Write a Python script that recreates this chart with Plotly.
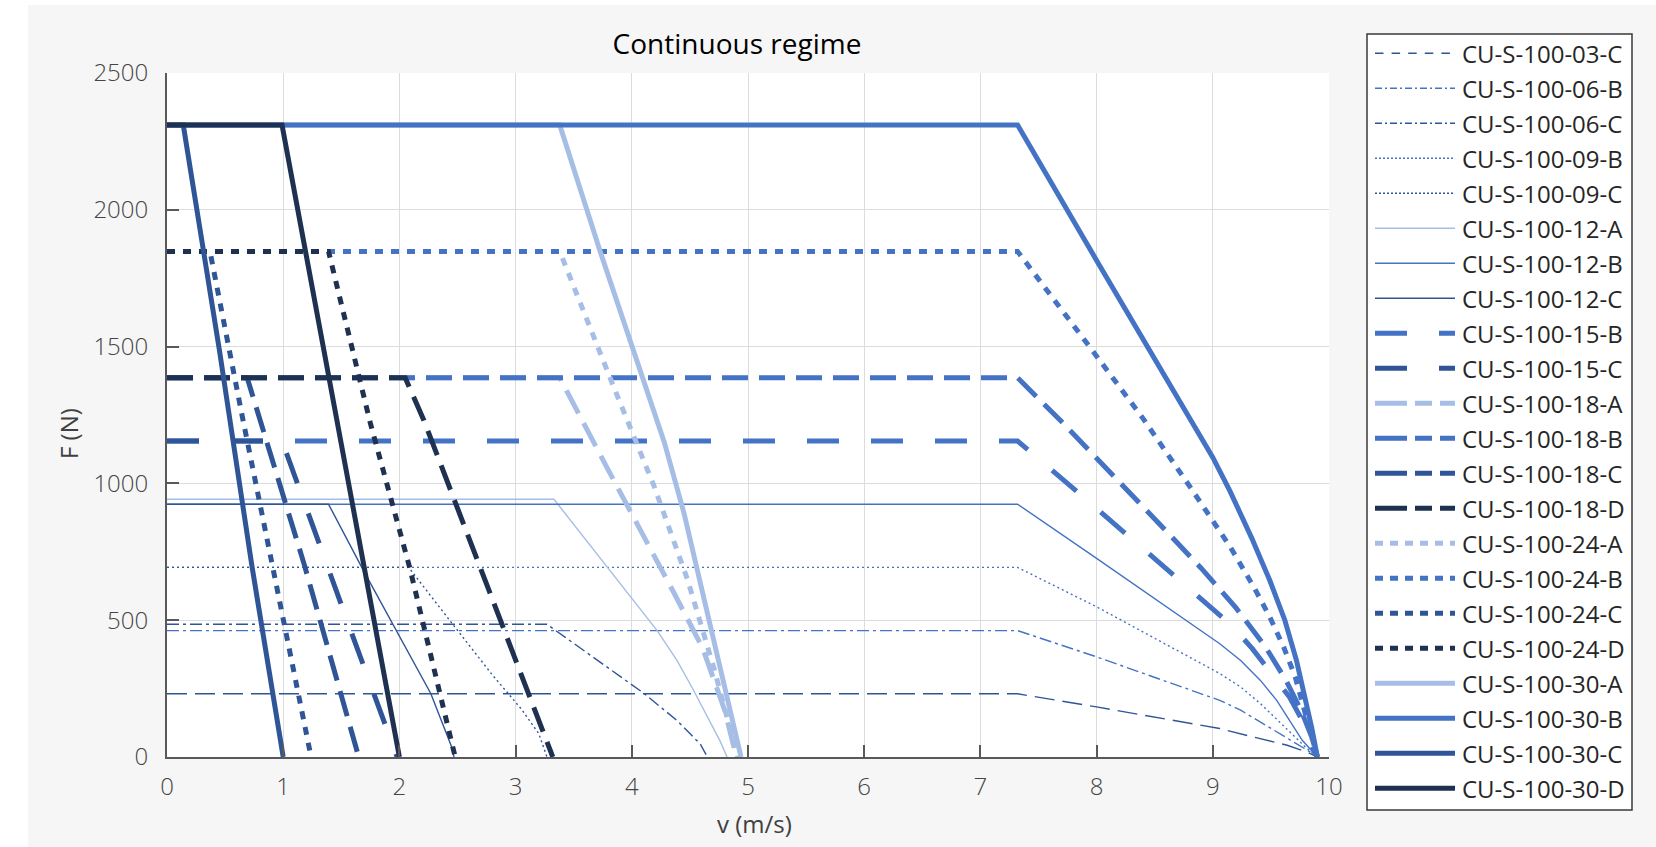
import plotly.graph_objects as go

# ---------------- data ----------------
names = ["CU-S-100-03-C", "CU-S-100-06-B", "CU-S-100-06-C", "CU-S-100-09-B",
         "CU-S-100-09-C", "CU-S-100-12-A", "CU-S-100-12-B", "CU-S-100-12-C",
         "CU-S-100-15-B", "CU-S-100-15-C", "CU-S-100-18-A", "CU-S-100-18-B",
         "CU-S-100-18-C", "CU-S-100-18-D", "CU-S-100-24-A", "CU-S-100-24-B",
         "CU-S-100-24-C", "CU-S-100-24-D", "CU-S-100-30-A", "CU-S-100-30-B",
         "CU-S-100-30-C", "CU-S-100-30-D"]

v_03C = [0, 7.32, 8.0, 9.06, 9.35, 9.64, 9.81, 9.9]
f_03C = [231, 231, 183, 104, 73, 43, 18, 0]
v_06B = [0, 7.32, 8.0, 9.06, 9.24, 9.41, 9.58, 9.72, 9.84, 9.9]
f_06B = [462, 462, 366, 207, 171, 128, 85, 49, 18, 0]
v_06C = [0, 3.27, 4.1, 4.39, 4.59, 4.65]
f_06C = [485, 485, 234, 133, 47, 0]
v_09B = [0, 7.32, 8.0, 9.06, 9.24, 9.41, 9.56, 9.68, 9.8, 9.9]
f_09B = [693, 693, 549, 305, 256, 195, 134, 85, 35, 0]
v_09C = [0, 2.08, 2.45, 2.8, 3.05, 3.2, 3.27]
f_09C = [693, 693, 490, 300, 175, 85, 0]
v_12A = [0, 3.33, 4.22, 4.39, 4.53, 4.65, 4.76, 4.82]
f_12A = [942, 942, 461, 352, 245, 150, 58, 0]
v_12B = [0, 7.32, 8.0, 8.58, 9.06, 9.24, 9.41, 9.55, 9.66, 9.77, 9.9]
f_12B = [924, 924, 726, 555, 414, 353, 280, 207, 134, 61, 0]
v_12C = [0, 1.39, 1.69, 2.04, 2.27, 2.45, 2.47]
f_12C = [924, 924, 682, 410, 232, 37, 0]
v_15B = [0, 7.32, 7.9, 8.52, 8.94, 9.16, 9.34, 9.51, 9.66, 9.77, 9.84, 9.9]
f_15B = [1155, 1155, 945, 720, 567, 482, 396, 305, 219, 134, 49, 0]
v_15C = [0, 0.99, 1.6, 1.98]
f_15C = [1155, 1155, 440, 0]
v_18A = [0, 3.38, 3.79, 4.05, 4.36, 4.61, 4.8, 4.9]
f_18A = [1386, 1386, 1055, 852, 602, 398, 170, 0]
v_18B = [0, 7.32, 7.7, 8.1, 8.5, 8.9, 9.2, 9.45, 9.63, 9.76, 9.85, 9.9]
f_18B = [1386, 1386, 1225, 1050, 870, 690, 545, 405, 280, 170, 75, 0]
v_18C = [0, 0.69, 1.18, 1.49, 1.65]
f_18C = [1386, 1386, 705, 232, 0]
v_18D = [0, 2.05, 2.21, 2.6, 3.32]
f_18D = [1386, 1386, 1231, 800, 0]
v_24A = [0, 3.38, 3.86, 4.19, 4.48, 4.71, 4.91]
f_24A = [1848, 1848, 1336, 992, 648, 320, 0]
v_24B = [0, 7.32, 7.94, 8.39, 8.8, 9.15, 9.36, 9.49, 9.61, 9.71, 9.78, 9.84, 9.9]
f_24B = [1848, 1848, 1499, 1243, 990, 768, 616, 512, 402, 292, 183, 90, 0]
v_24C = [0, 0.37, 0.65, 0.99, 1.24]
f_24C = [1848, 1848, 1240, 522, 0]
v_24D = [0, 1.39, 1.75, 2.09, 2.48]
f_24D = [1848, 1848, 1220, 690, 0]
v_30A = [0, 3.38, 3.73, 4.1, 4.28, 4.45, 4.68, 4.81, 4.94]
f_30A = [2310, 2310, 1845, 1385, 1150, 890, 480, 240, 0]
v_30B = [0, 7.32, 8.0, 8.82, 9.0, 9.15, 9.335, 9.49, 9.62, 9.72, 9.79, 9.85, 9.9]
f_30B = [2310, 2310, 1815, 1230, 1095, 970, 800, 646, 500, 353, 232, 110, 0]
v_30C = [0, 0.14, 0.45, 0.73, 1.0]
f_30C = [2310, 2310, 1490, 700, 0]
v_30D = [0, 0.99, 1.59, 2.0]
f_30D = [2310, 2310, 938, 0]

x_ticks = [0, 1, 2, 3, 4, 5, 6, 7, 8, 9, 10]
y_ticks = [0, 500, 1000, 1500, 2000, 2500]

series_v = [v_03C, v_06B, v_06C, v_09B, v_09C, v_12A, v_12B, v_12C, v_15B, v_15C,
            v_18A, v_18B, v_18C, v_18D, v_24A, v_24B, v_24C, v_24D,
            v_30A, v_30B, v_30C, v_30D]
series_f = [f_03C, f_06B, f_06C, f_09B, f_09C, f_12A, f_12B, f_12C, f_15B, f_15C,
            f_18A, f_18B, f_18C, f_18D, f_24A, f_24B, f_24C, f_24D,
            f_30A, f_30B, f_30C, f_30D]

# ---------------- styles ----------------
colA, colB, colC, colD = "#a6bee5", "#4472c4", "#2f5597", "#1f3151"
colors = [colC, colB, colC, colB, colC, colA, colB, colC, colB, colC,
          colA, colB, colC, colD, colA, colB, colC, colD, colA, colB, colC, colD]
thin, thick = 1.4, 5
widths = [thin] * 8 + [thick] * 14
DASH3 = "20px,8px"
DASHDOT = "12px,4px,3px,4px"
DOT = "2px,3px"
LONG = "32px,32px"
DASH18 = "26px,11px"
DOT24 = "8px,8px"
plot_dash = [DASH3, DASHDOT, DASHDOT, DOT, DOT, "solid", "solid", "solid",
             LONG, LONG, DASH18, DASH18, DASH18, DASH18,
             DOT24, DOT24, DOT24, DOT24, "solid", "solid", "solid", "solid"]
LG3 = "8.5px,8.1px"
LGDD = "7px,3px,2px,3px"
LGDOT = "2px,2px"
LG18 = "32px,8px,17px,8px,17px,8px"
LG24 = "8px,7px"
legend_dash = [LG3, LGDD, LGDD, LGDOT, LGDOT, "solid", "solid", "solid",
               LONG, LONG, LG18, LG18, LG18, LG18,
               LG24, LG24, LG24, LG24, "solid", "solid", "solid", "solid"]

FONT = "Open Sans"
W, H = 1656, 847
L, R, T, B = 167, 1329, 73, 757   # plot area in pixels
PW, PH = R - L, B - T


def px(x):
    return (x - L) / PW


def py(y):
    return (B - y) / PH


fig = go.Figure()
for name, vv, ff, c, w, d in zip(names, series_v, series_f, colors, widths, plot_dash):
    fig.add_trace(go.Scatter(x=vv, y=ff, mode="lines", name=name,
                             line=dict(color=c, width=w, dash=d),
                             showlegend=False))

shapes = []
# white page strips (left / top) outside the grey frame
shapes.append(dict(type="rect", xref="paper", yref="paper", layer="below",
                   x0=px(-5), x1=px(28), y0=py(W), y1=py(-5),
                   fillcolor="white", line=dict(width=0)))
shapes.append(dict(type="rect", xref="paper", yref="paper", layer="below",
                   x0=px(-5), x1=px(W + 5), y0=py(5), y1=py(-5),
                   fillcolor="white", line=dict(width=0)))
# legend box
shapes.append(dict(type="rect", xref="paper", yref="paper", layer="above",
                   x0=px(1367), x1=px(1632), y0=py(810), y1=py(34),
                   fillcolor="white", line=dict(color="#3a3a3a", width=1.5)))
annotations = []
for i, (name, c, w, d) in enumerate(zip(names, colors, widths, legend_dash)):
    yc = 53.3 + 35 * i
    shapes.append(dict(type="line", xref="paper", yref="paper", layer="above",
                       x0=px(1375), x1=px(1455), y0=py(yc), y1=py(yc),
                       line=dict(color=c, width=w, dash=d)))
    annotations.append(dict(text=name, xref="paper", yref="paper",
                            x=px(1460), y=py(yc), xanchor="left", yanchor="middle",
                            showarrow=False,
                            font=dict(family=FONT, size=24, color="#262626")))

# axis titles
annotations.append(dict(text="v (m/s)", xref="paper", yref="paper",
                        x=px(754), y=py(824), xanchor="center", yanchor="middle",
                        showarrow=False, font=dict(family=FONT, size=24, color="#404040")))
annotations.append(dict(text="F (N)", xref="paper", yref="paper",
                        x=px(68), y=py(434), xanchor="center", yanchor="middle",
                        textangle=-90, showarrow=False,
                        font=dict(family=FONT, size=24, color="#404040")))

axis_common = dict(showgrid=True, gridcolor="#dcdcdc", gridwidth=1,
                   showline=True, linecolor="#595959", linewidth=2,
                   ticks="inside", ticklen=12, tickwidth=1.5, tickcolor="#595959",
                   zeroline=False, mirror=False,
                   tickfont=dict(family=FONT, size=24, color="#454545", weight=300))

fig.update_layout(
    width=W, height=H,
    margin=dict(l=L, r=W - R, t=T, b=H - B, pad=0),
    paper_bgcolor="#f6f6f6", plot_bgcolor="white",
    title=dict(text="Continuous regime", x=px(737), xref="paper", xanchor="center",
               y=1 - 44 / H, yref="container", yanchor="middle",
               font=dict(family=FONT, size=28, color="black")),
    xaxis=dict(range=[0, 10], tickvals=x_ticks, ticklabelstandoff=7, **axis_common),
    yaxis=dict(range=[0, 2500], tickvals=y_ticks, ticklabelstandoff=12, **axis_common),
    shapes=shapes, annotations=annotations,
    showlegend=False,
)

fig.write_html("out.html", config={"displayModeBar": False},
               post_script="document.body.style.margin='0';")
